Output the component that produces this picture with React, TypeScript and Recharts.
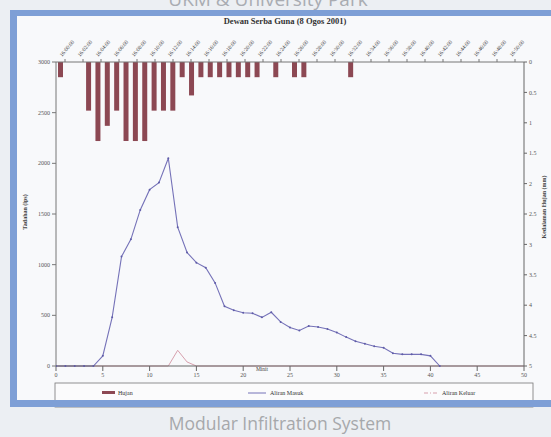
import { ComposedChart, Bar, Line, XAxis, YAxis } from "recharts";

// time labels along the top axis (2-minute steps)
const timeLabels = [
  "16:00:00", "16:02:00", "16:04:00", "16:06:00", "16:08:00", "16:10:00", "16:12:00",
  "16:14:00", "16:16:00", "16:18:00", "16:20:00", "16:22:00", "16:24:00", "16:26:00",
  "16:28:00", "16:30:00", "16:32:00", "16:34:00", "16:36:00", "16:38:00", "16:40:00",
  "16:42:00", "16:44:00", "16:46:00", "16:48:00", "16:50:00",
];

// rainfall (mm), hanging from the top on the reversed right axis
const rainX = [0.5, 3.5, 4.5, 5.5, 6.5, 7.5, 8.5, 9.5, 10.5, 11.5, 12.5, 13.5, 14.5, 15.5, 16.5, 17.5, 18.5, 19.5, 20.5, 21.5, 23.5, 25.5, 26.5, 31.5];
const rainMm = [0.25, 0.8, 1.3, 1.05, 0.8, 1.3, 1.3, 1.3, 0.8, 0.8, 0.8, 0.25, 0.55, 0.25, 0.25, 0.25, 0.25, 0.25, 0.25, 0.25, 0.25, 0.25, 0.25, 0.25];

// inflow (lps)
const inX = [0, 1, 2, 3, 4, 5, 6, 7, 8, 9, 10, 11, 12, 13, 14, 15, 16, 17, 18, 19, 20, 21, 22, 23, 24, 25, 26, 27, 28, 29, 30, 31, 32, 33, 34, 35, 36, 37, 38, 39, 40, 41];
const inflow = [0, 0, 0, 0, 0, 100, 480, 1080, 1250, 1540, 1740, 1810, 2050, 1370, 1120, 1020, 970, 820, 590, 550, 525, 520, 480, 530, 435, 380, 350, 395, 385, 365, 330, 285, 245, 220, 195, 180, 125, 115, 115, 115, 100, 0];

// outflow (lps)
const outX = [0, 5, 10, 12, 13, 14, 15, 20, 25, 30, 35, 40, 45, 50];
const outflow = [0, 0, 0, 0, 155, 40, 0, 0, 0, 0, 0, 0, 0, 0];

const xTicks = [0, 5, 10, 15, 20, 25, 30, 35, 40, 45, 50];
const leftTicks = [0, 500, 1000, 1500, 2000, 2500, 3000];
const rightTicks = [0, 0.5, 1, 1.5, 2, 2.5, 3, 3.5, 4, 4.5, 5];

const rainData = rainX.map((x, i) => ({ x, rain: rainMm[i] }));
const inData = inX.map((x, i) => ({ x, v: inflow[i] }));
const outData = outX.map((x, i) => ({ x, v: outflow[i] }));
// one slot per time label across the 0..50 span
const slot = 50 / timeLabels.length;
const topTicks = timeLabels.map((_, i) => (i + 0.5) * slot);

const serif = "'Liberation Serif', 'DejaVu Serif', serif";
const tickStyle = { fontSize: 6, fill: "#555", fontFamily: serif };

function TimeTick(props: any) {
  const { x, y, payload } = props;
  const label = timeLabels[Math.round(payload.value / slot - 0.5)];
  return (
    <text x={x - 3} y={y} transform={`rotate(-50 ${x - 3} ${y})`} fontSize={5.5} fill="#444" fontFamily={serif}>
      {label}
    </text>
  );
}

export default function App() {
  return (
    <div style={{ position: "absolute", left: 0, top: 0, width: 551, height: 437, overflow: "hidden", background: "#eceff3" }}>
      <svg width={551} height={437} style={{ position: "absolute", left: 0, top: 0 }}>
        <text x={268} y={6} textAnchor="middle" fontSize={19} fill="#a9acb2" fontFamily="'Open Sans', sans-serif">
          UKM &amp; University Park
        </text>
        <rect x={17} y={16} width={534} height={385} fill="#f8f9fb" />
        <text x={280} y={430} textAnchor="middle" fontSize={17.5} fill="#a6a8ab" fontFamily="'Open Sans', sans-serif">
          Modular Infiltration System
        </text>
      </svg>

      <div style={{ position: "absolute", left: 0, top: 0 }}>
        <ComposedChart width={551} height={437} data={rainData} margin={{ top: 32, right: 7, bottom: 51, left: 26 }}>
          <XAxis
            dataKey="x"
            type="number"
            domain={[0, 50]}
            allowDataOverflow
            ticks={xTicks}
            interval={0}
            tick={tickStyle}
            tickSize={5}
            stroke="#666"
            height={20}
          />
          <XAxis
            xAxisId="top"
            dataKey="x"
            orientation="top"
            type="number"
            domain={[0, 50]}
            allowDataOverflow
            ticks={topTicks}
            interval={0}
            tick={<TimeTick />}
            tickSize={3}
            stroke="#777"
            height={30}
          />
          <YAxis
            yAxisId="left"
            type="number"
            domain={[0, 3000]}
            ticks={leftTicks}
            interval={0}
            tick={tickStyle}
            tickSize={4}
            stroke="#777"
            width={30}
          />
          <YAxis
            yAxisId="right"
            orientation="right"
            type="number"
            reversed
            domain={[0, 5]}
            ticks={rightTicks}
            interval={0}
            tick={tickStyle}
            tickSize={3}
            stroke="#666"
            width={20}
          />
          <Bar xAxisId="top" yAxisId="right" dataKey="rain" fill="#8c4853" barSize={5} isAnimationActive={false} />
          <Line
            yAxisId="left"
            data={outData}
            dataKey="v"
            type="linear"
            stroke="#d7a0ad"
            strokeWidth={1}
            dot={false}
            isAnimationActive={false}
          />
          <Line
            yAxisId="left"
            data={inData}
            dataKey="v"
            type="linear"
            stroke="#7572b8"
            strokeWidth={1.1}
            dot={{ r: 1, fill: "#5f5ca8", stroke: "none" }}
            isAnimationActive={false}
          />
        </ComposedChart>
      </div>

      <svg width={551} height={437} style={{ position: "absolute", left: 0, top: 0, pointerEvents: "none" }}>
        <text x={285} y={24} textAnchor="middle" fontSize={8.5} fontWeight="bold" fill="#333" fontFamily={serif}>
          Dewan Serba Guna (8 Ogos 2001)
        </text>
        <text x={27} y={212} transform="rotate(-90 27 212)" textAnchor="middle" fontSize={6} fontWeight="bold" fill="#444" fontFamily={serif}>
          Tadahan (lps)
        </text>
        <text x={546} y={207} transform="rotate(-90 546 207)" textAnchor="middle" fontSize={6} fontWeight="bold" fill="#444" fontFamily={serif}>
          Kedalaman Hujan (mm)
        </text>
        <text x={262} y={371} textAnchor="middle" fontSize={5.5} fill="#444" fontFamily={serif}>
          Minit
        </text>

        <rect x={55} y={383} width={478} height={24} fill="#fbfbfc" stroke="#777" strokeWidth={0.8} />
        <rect x={102} y={391} width={13} height={3} fill="#8c4853" />
        <text x={118} y={395} fontSize={6} fill="#333" fontFamily={serif}>Hujan</text>
        <line x1={248} y1={393} x2={266} y2={393} stroke="#7572b8" strokeWidth={1} />
        <text x={270} y={395} fontSize={6} fill="#333" fontFamily={serif}>Aliran Masuk</text>
        <line x1={424} y1={393} x2={438} y2={393} stroke="#d7a0ad" strokeWidth={1} strokeDasharray="4 2 1 2" />
        <text x={442} y={395} fontSize={6} fill="#333" fontFamily={serif}>Aliran Keluar</text>

        <rect x={10} y={10} width={541} height={6} fill="#7e9fd6" />
        <rect x={10} y={10} width={7} height={397} fill="#7e9fd6" />
        <rect x={10} y={400} width={541} height={7} fill="#7e9fd6" />
      </svg>
    </div>
  );
}
